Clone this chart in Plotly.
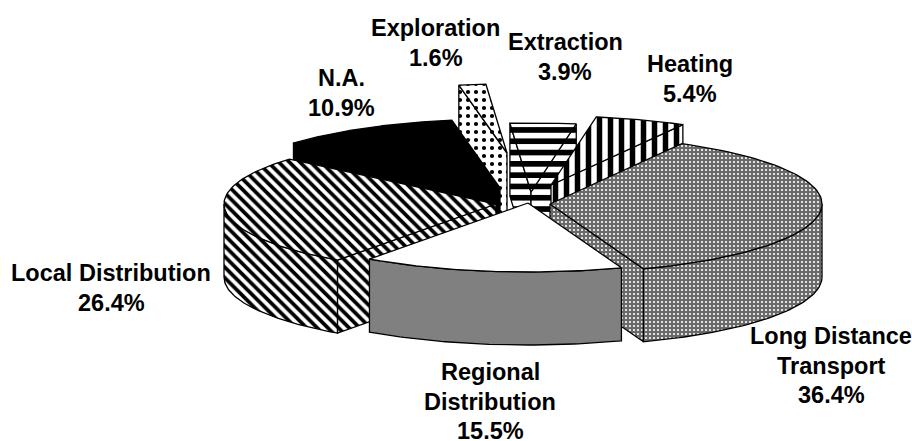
import numpy as np
import plotly.graph_objects as go

# ---- data ----
categories = ["Long Distance<br>Transport", "Regional<br>Distribution", "Local Distribution",
              "N.A.", "Exploration", "Extraction", "Heating"]
shares = [36.4, 15.5, 26.4, 10.9, 1.6, 3.9, 5.4]

# ---- layout constants ----
W, H = 912, 441
RX, RY, DEPTH = 272, 69, 73
START = -61.0
apex = {"Long Distance<br>Transport": (550, 204), "Regional<br>Distribution": (528, 203),
        "Local Distribution": (496, 204), "N.A.": (500, 188), "Exploration": (507, 153),
        "Extraction": (531, 192), "Heating": (551, 185)}
def pat(shape, size, sol, fg="black", bg="white"):
    return dict(shape=shape, size=size, solidity=sol, fgcolor=fg, bgcolor=bg, fillmode="replace")
top_style = {"Long Distance<br>Transport": pat(".", 4, 0.22, "white", "#6a6a6a"), "Regional<br>Distribution": None,
             "Local Distribution": pat("\\", 7.5, 0.5), "N.A.": None,
             "Exploration": pat(".", 8, 0.22), "Extraction": pat("-", 11.3, 0.5), "Heating": pat("|", 11, 0.5)}
solid = {"Regional<br>Distribution": ("white", "#808080"), "N.A.": ("black", "black")}
label_pos = {"Long Distance<br>Transport": (831, 336), "Regional<br>Distribution": (490, 372),
             "Local Distribution": (111, 273), "N.A.": (341, 78), "Exploration": (435.5, 28),
             "Extraction": (565, 42), "Heating": (690, 64)}
LINE_GAP = 29.7
paint_order = ["Exploration", "N.A.", "Extraction", "Heating", "Local Distribution",
               "Long Distance<br>Transport", "Regional<br>Distribution"]

# angles from the shares
edges = START + np.concatenate([[0], np.cumsum(shares)]) * 360 / sum(shares)
span = {c: (edges[i], edges[i + 1]) for i, c in enumerate(categories)}

fig = go.Figure()
def poly(xs, ys, fill=None, pattern=None):
    kw = dict(x=list(xs) + [xs[0]], y=list(ys) + [ys[0]], mode="lines", fill="toself",
              line=dict(color="black", width=1.3), hoverinfo="skip", showlegend=False)
    if pattern:
        kw["fillpattern"] = pattern
        kw["fillcolor"] = "white"
    else:
        kw["fillcolor"] = fill
    fig.add_trace(go.Scatter(**kw))

for c in paint_order:
    a1, a2 = span[c]
    ax, ay = apex[c]
    p = top_style[c]
    fill_top, fill_side = solid.get(c, (None, None))
    rim = lambda t: (ax + RX * np.cos(np.radians(t)), ay + RY * np.sin(np.radians(t)))
    # radial faces that look towards the viewer
    for t, visible in ((a1, np.cos(np.radians(a1)) < 0), (a2, np.cos(np.radians(a2)) > 0)):
        if visible:
            rx, ry = rim(t)
            poly([ax, rx, rx, ax], [ay, ry, ry + DEPTH, ay + DEPTH], fill_side, p)
    # outer wall, front half only
    lo, hi = max(a1, 0), min(a2, 180)
    if lo < hi:
        th = np.linspace(lo, hi, 60)
        xs, ys = rim(th)
        poly(list(xs) + list(xs[::-1]), list(ys) + list(ys[::-1] + DEPTH), fill_side, p)
    # top
    th = np.linspace(a1, a2, 80)
    xs, ys = rim(th)
    poly([ax] + list(xs), [ay] + list(ys), fill_top, p)

annotations = []
for c, v in zip(categories, shares):
    x, y = label_pos[c]
    for i, line in enumerate(c.split("<br>") + [f"{v:.1f}%"]):
        annotations.append(dict(x=x, y=y + i * LINE_GAP, text=f"<b>{line}</b>", showarrow=False,
                                xanchor="center", yanchor="middle",
                                font=dict(family="Liberation Sans", size=23.5, color="black")))

fig.update_layout(width=W, height=H, margin=dict(l=0, r=0, t=0, b=0), paper_bgcolor="white",
                  plot_bgcolor="white", showlegend=False, annotations=annotations,
                  xaxis=dict(range=[0, W], visible=False, fixedrange=True),
                  yaxis=dict(range=[H, 0], visible=False, fixedrange=True))
fig.write_html("out.html", config=dict(displayModeBar=False),
               post_script="document.body.style.margin='0';document.body.style.overflow='hidden';")
